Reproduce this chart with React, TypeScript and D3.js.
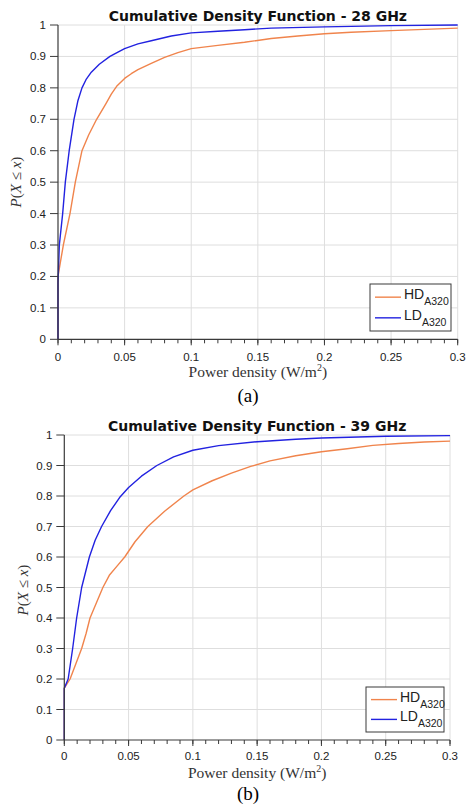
import React from "react";
import * as d3 from "d3";

// ---- data ----
const xTicks = [0, 0.05, 0.1, 0.15, 0.2, 0.25, 0.3];
const xTickLabels = ["0", "0.05", "0.1", "0.15", "0.2", "0.25", "0.3"];
const yTicks = [0, 0.1, 0.2, 0.3, 0.4, 0.5, 0.6, 0.7, 0.8, 0.9, 1];
const yTickLabels = ["0", "0.1", "0.2", "0.3", "0.4", "0.5", "0.6", "0.7", "0.8", "0.9", "1"];
const seriesNames = ["HD", "LD"];

// 28 GHz
const hd28x = [0, 0, 0.002, 0.004, 0.009, 0.013, 0.018, 0.023, 0.029, 0.036, 0.04, 0.044, 0.05, 0.055, 0.06, 0.07, 0.08, 0.09, 0.1, 0.12, 0.14, 0.16, 0.18, 0.2, 0.22, 0.25, 0.28, 0.3];
const hd28y = [0, 0.2, 0.25, 0.3, 0.4, 0.5, 0.6, 0.65, 0.7, 0.75, 0.78, 0.805, 0.83, 0.845, 0.858, 0.878, 0.897, 0.912, 0.925, 0.935, 0.945, 0.957, 0.965, 0.972, 0.977, 0.982, 0.987, 0.99];
const ld28x = [0, 0, 0.001, 0.0035, 0.0055, 0.0084, 0.012, 0.015, 0.018, 0.021, 0.025, 0.031, 0.039, 0.045, 0.05, 0.06, 0.07, 0.085, 0.1, 0.12, 0.14, 0.16, 0.2, 0.25, 0.3];
const ld28y = [0, 0.18, 0.3, 0.4, 0.5, 0.6, 0.7, 0.76, 0.8, 0.826, 0.85, 0.875, 0.9, 0.914, 0.925, 0.94, 0.95, 0.965, 0.975, 0.98, 0.985, 0.99, 0.994, 0.998, 1.0];

// 39 GHz
const hd39x = [0, 0, 0.0045, 0.009, 0.0135, 0.017, 0.02, 0.025, 0.03, 0.035, 0.041, 0.047, 0.055, 0.065, 0.078, 0.093, 0.1, 0.115, 0.13, 0.145, 0.16, 0.18, 0.2, 0.22, 0.24, 0.26, 0.28, 0.3];
const hd39y = [0, 0.17, 0.2, 0.25, 0.3, 0.35, 0.4, 0.45, 0.5, 0.54, 0.57, 0.6, 0.65, 0.7, 0.75, 0.8, 0.82, 0.85, 0.875, 0.897, 0.915, 0.932, 0.945, 0.955, 0.966, 0.972, 0.977, 0.98];
const ld39x = [0, 0, 0.003, 0.0065, 0.0096, 0.0135, 0.0195, 0.024, 0.029, 0.036, 0.043, 0.05, 0.06, 0.072, 0.085, 0.1, 0.12, 0.15, 0.18, 0.2, 0.25, 0.3];
const ld39y = [0, 0.17, 0.2, 0.3, 0.4, 0.5, 0.6, 0.655, 0.7, 0.752, 0.795, 0.828, 0.865, 0.9, 0.928, 0.95, 0.965, 0.978, 0.986, 0.99, 0.996, 0.998];

const ORANGE = "#f0844c";
const BLUE = "#2222e0";
const AXIS = "#3a3a3a";
const GRID = "#dedede";

const zip = (xs, ys) => xs.map((x, i) => [x, ys[i]]);

const Panel = (props) => {
  const { left, right, top, bottom } = props.box;
  const x = d3.scaleLinear().domain([0, 0.3]).range([left, right]);
  const y = d3.scaleLinear().domain([0, 1]).range([bottom, top]);
  const line = d3
    .line()
    .x((d) => x(d[0]))
    .y((d) => y(d[1]));
  const minor = d3.range(0, 0.3001, 0.01);
  const lg = props.legend;

  return (
    <g>
      {/* grid */}
      {xTicks.slice(1).map((t) => (
        <line key={"gx" + t} x1={x(t)} x2={x(t)} y1={top} y2={bottom} stroke={GRID} strokeWidth={1} />
      ))}
      {yTicks.slice(1).map((t) => (
        <line key={"gy" + t} x1={left} x2={right} y1={y(t)} y2={y(t)} stroke={GRID} strokeWidth={1} />
      ))}

      {/* curves */}
      <path d={line(zip(props.hdx, props.hdy))} fill="none" stroke={ORANGE} strokeWidth={1.4} strokeLinejoin="round" />
      <path d={line(zip(props.ldx, props.ldy))} fill="none" stroke={BLUE} strokeWidth={1.4} strokeLinejoin="round" />

      {/* axes */}
      <line x1={left} x2={left} y1={top} y2={bottom} stroke={AXIS} strokeWidth={1.2} />
      <line x1={left} x2={right} y1={bottom} y2={bottom} stroke={AXIS} strokeWidth={1.2} />
      {yTicks.map((t, i) => (
        <g key={"yt" + t}>
          <line x1={left - 8} x2={left} y1={y(t)} y2={y(t)} stroke={AXIS} strokeWidth={1} />
          <text x={left - 12} y={y(t) + 4} textAnchor="end" fontSize={11.5} fontFamily="Liberation Sans, Arial" fill="#222">
            {yTickLabels[i]}
          </text>
        </g>
      ))}
      {minor.map((t) => (
        <line key={"mt" + t} x1={x(t)} x2={x(t)} y1={bottom} y2={bottom + 4} stroke={AXIS} strokeWidth={1} />
      ))}
      {xTicks.map((t, i) => (
        <g key={"xt" + t}>
          <line x1={x(t)} x2={x(t)} y1={bottom} y2={bottom + 6} stroke={AXIS} strokeWidth={1} />
          <text x={x(t)} y={bottom + props.xTickDy} textAnchor="middle" fontSize={11.5} fontFamily="Liberation Sans, Arial" fill="#222">
            {xTickLabels[i]}
          </text>
        </g>
      ))}

      {/* title */}
      <text x={(left + right) / 2} y={props.titleY} textAnchor="middle" fontSize={14} fontWeight="bold" fontFamily="DejaVu Sans, sans-serif" fill="#111">
        {props.title}
      </text>

      {/* axis labels */}
      <text x={(left + right) / 2} y={props.xLabelY} textAnchor="middle" fontSize={15.5} fontFamily="Liberation Serif, serif" fill="#333">
        Power density (W/m<tspan dy={-6} fontSize={10}>2</tspan><tspan dy={6}>)</tspan>
      </text>
      <text
        transform={`translate(${props.yLabelX},${props.yLabelY}) rotate(-90)`}
        textAnchor="middle"
        fontSize={15}
        fontFamily="Liberation Serif, serif"
        fill="#333"
      >
        <tspan fontStyle="italic">P</tspan>(<tspan fontStyle="italic">X</tspan> ≤ <tspan fontStyle="italic">x</tspan>)
      </text>
      <text x={248} y={props.captionY} textAnchor="middle" fontSize={19} fontFamily="Liberation Serif, serif" fill="#000">
        {props.caption}
      </text>

      {/* legend */}
      <rect x={lg.x} y={lg.y} width={lg.w} height={lg.h} fill="#fff" stroke={AXIS} strokeWidth={1} />
      {seriesNames.map((name, i) => {
        const ly = lg.y + lg.h * (i === 0 ? 0.28 : 0.72);
        return (
          <g key={name}>
            <line x1={lg.x + 5} x2={lg.x + 31} y1={ly} y2={ly} stroke={i === 0 ? ORANGE : BLUE} strokeWidth={1.4} />
            <text x={lg.x + 34} y={ly + 2} fontSize={14} fontFamily="Liberation Sans, Arial" fill="#222">
              {name}
              <tspan dy={6} fontSize={10.5}>A320</tspan>
            </text>
          </g>
        );
      })}
    </g>
  );
};

export default function App() {
  return (
    <svg width={466} height={808} style={{ position: "absolute", left: 0, top: 0, background: "#fff" }}>
      <rect width={466} height={808} fill="#fff" />
      <Panel
        box={{ left: 58, right: 457.7, top: 25, bottom: 339.3 }}
        title="Cumulative Density Function - 28 GHz"
        titleY={21}
        xTickDy={22}
        xLabelY={377}
        yLabelX={21}
        yLabelY={182}
        captionY={402}
        caption="(a)"
        legend={{ x: 370, y: 284, w: 81, h: 47 }}
        hdx={hd28x}
        hdy={hd28y}
        ldx={ld28x}
        ldy={ld28y}
      />
      <Panel
        box={{ left: 64.3, right: 450, top: 435, bottom: 740 }}
        title="Cumulative Density Function - 39 GHz"
        titleY={431}
        xTickDy={20}
        xLabelY={778}
        yLabelX={28}
        yLabelY={590}
        captionY={800}
        caption="(b)"
        legend={{ x: 366, y: 687, w: 78, h: 45 }}
        hdx={hd39x}
        hdy={hd39y}
        ldx={ld39x}
        ldy={ld39y}
      />
    </svg>
  );
}
